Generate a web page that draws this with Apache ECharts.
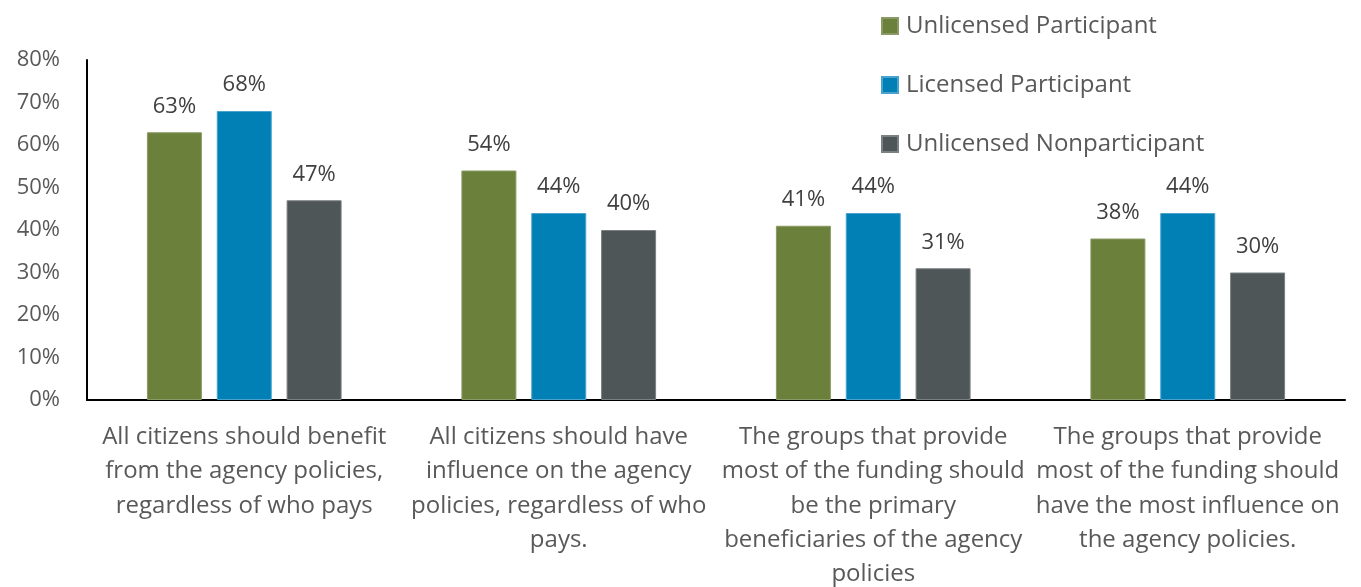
<!DOCTYPE html>
<html>
<head>
<meta charset="utf-8">
<script src="https://cdn.jsdelivr.net/npm/echarts@6/dist/echarts.min.js"></script>
<style>
  html, body { margin: 0; padding: 0; background: #fff; }
  #chart { width: 1361px; height: 587px; }
</style>
</head>
<body>
<div id="chart"></div>
<script>
// Survey statements (category axis), wrapped as printed
const categories = [
  'All citizens should benefit\nfrom the agency policies,\nregardless of who pays',
  'All citizens should have\ninfluence on the agency\npolicies, regardless of who\npays.',
  'The groups that provide\nmost of the funding should\nbe the primary\nbeneficiaries of the agency\npolicies',
  'The groups that provide\nmost of the funding should\nhave the most influence on\nthe agency policies.'
];

// Share agreeing, in percent
const unlicensedParticipant = [63, 54, 41, 38];
const licensedParticipant = [68, 44, 44, 44];
const unlicensedNonparticipant = [47, 40, 31, 30];

const yTicks = [0, 10, 20, 30, 40, 50, 60, 70, 80];

const FONT = '"Open Sans", "Liberation Sans", sans-serif';
const TEXT = '#595959';

function barSeries(name, data, color, border) {
  return {
    name: name,
    type: 'bar',
    data: data,
    barWidth: 55,
    barGap: '27%',
    itemStyle: { color: color, borderColor: border, borderWidth: 1 },
    label: {
      show: true,
      position: 'top',
      distance: 15,
      formatter: '{c}%',
      color: '#404040',
      fontFamily: FONT,
      fontSize: 22
    }
  };
}

const chart = echarts.init(document.getElementById('chart'), null, { renderer: 'canvas' });
chart.setOption({
  animation: false,
  backgroundColor: '#ffffff',
  legend: {
    orient: 'vertical',
    left: 876,
    top: 9,
    itemWidth: 16,
    itemHeight: 16,
    itemGap: 35,
    icon: 'rect',
    textStyle: { color: TEXT, fontFamily: FONT, fontSize: 24, padding: [0, 0, 0, 3] },
    data: ['Unlicensed Participant', 'Licensed Participant', 'Unlicensed Nonparticipant']
  },
  grid: {
    left: 87, right: 16, top: 60, bottom: 187,
    containLabel: false,
    outerBoundsMode: 'none'
  },
  xAxis: {
    type: 'category',
    data: categories,
    axisLine: { show: true, lineStyle: { color: '#000000', width: 2 } },
    axisTick: { show: false },
    axisLabel: {
      interval: 0,
      hideOverlap: false,
      margin: 20,
      color: TEXT,
      fontFamily: FONT,
      fontSize: 24,
      lineHeight: 34.3,
      align: 'center'
    }
  },
  yAxis: {
    type: 'value',
    min: yTicks[0],
    max: yTicks[yTicks.length - 1],
    interval: 10,
    splitLine: { show: false },
    axisLine: { show: true, lineStyle: { color: '#000000', width: 2 } },
    axisTick: { show: false },
    axisLabel: {
      margin: 27,
      formatter: '{value}%',
      color: TEXT,
      fontFamily: FONT,
      fontSize: 22
    }
  },
  series: [
    barSeries('Unlicensed Participant', unlicensedParticipant, '#6b813b', '#8a9a66'),
    barSeries('Licensed Participant', licensedParticipant, '#0080b5', '#4aa3cf'),
    barSeries('Unlicensed Nonparticipant', unlicensedNonparticipant, '#4f5658', '#7b8183')
  ]
});
</script>
</body>
</html>
